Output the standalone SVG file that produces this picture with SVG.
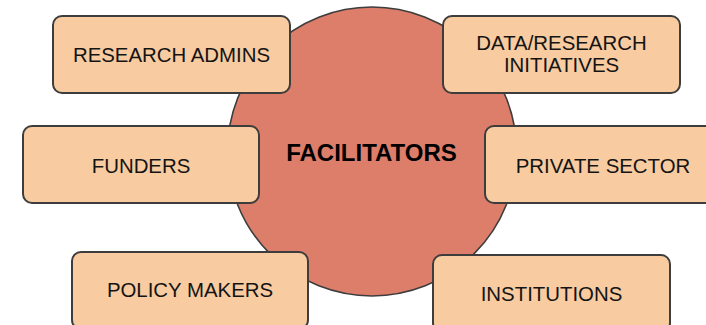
<svg xmlns="http://www.w3.org/2000/svg" width="706" height="325" viewBox="0 0 706 325">
<style>
.box{fill:#f8cba0;stroke:#3d3d3d;stroke-width:2}
.lbl{font-family:"Liberation Sans",Arial,sans-serif;font-size:20.4px;fill:#141414;text-anchor:middle}
.ctr{font-family:"Liberation Sans",Arial,sans-serif;font-size:24px;font-weight:bold;fill:#000;text-anchor:middle}
</style>
<rect width="706" height="325" fill="#ffffff"/>
<g id="facilitators">
<circle cx="372" cy="151.5" r="144.5" fill="#dd7e6b" stroke="#3d3d3d" stroke-width="1.6"/>
<text class="ctr" x="371.5" y="161">FACILITATORS</text>
</g>
<g id="connectors"></g>
<g id="research-admins">
<rect class="box" x="53" y="16" width="237" height="77" rx="9"/>
<text class="lbl" x="171.5" y="61.5">RESEARCH ADMINS</text>
</g>
<g id="data-research">
<rect class="box" x="443" y="16" width="237" height="77" rx="9"/>
<text class="lbl" x="561.5" y="50">DATA/RESEARCH</text>
<text class="lbl" x="561.5" y="72">INITIATIVES</text>
</g>
<g id="funders">
<rect class="box" x="23" y="126" width="236" height="77" rx="9"/>
<text class="lbl" x="141" y="172.5">FUNDERS</text>
</g>
<g id="private-sector">
<rect class="box" x="485" y="126" width="236" height="77" rx="9"/>
<text class="lbl" x="603" y="172.5">PRIVATE SECTOR</text>
</g>
<g id="policy-makers">
<rect class="box" x="72" y="252" width="236" height="77" rx="9"/>
<text class="lbl" x="190" y="296.5">POLICY MAKERS</text>
</g>
<g id="institutions">
<rect class="box" x="433" y="255" width="237" height="77" rx="9"/>
<text class="lbl" x="551.5" y="300.5">INSTITUTIONS</text>
</g>
</svg>
